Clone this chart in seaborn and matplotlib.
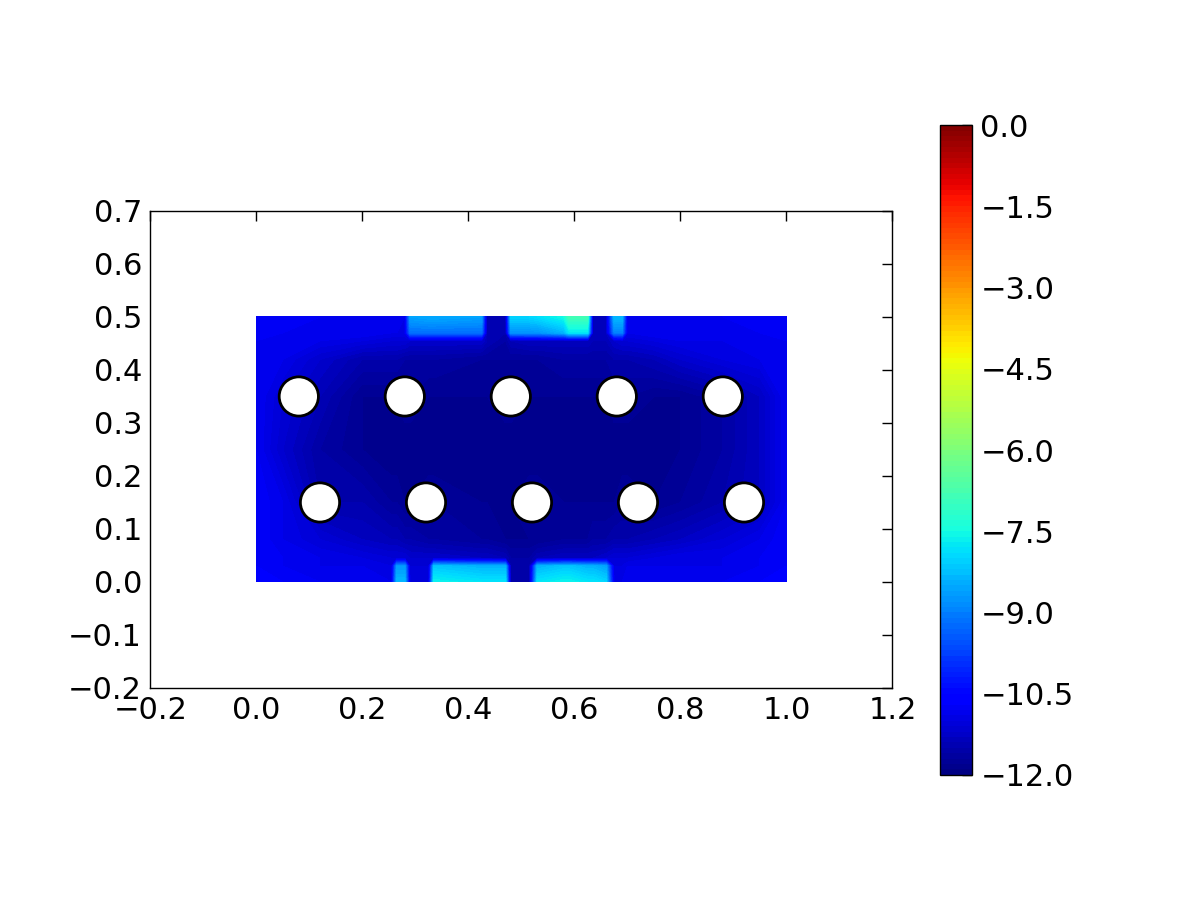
import numpy as np
import matplotlib
matplotlib.use("Agg")
import matplotlib.pyplot as plt
from matplotlib.patches import Circle
import seaborn as sns

# grid nodes of the field
xs = [0.00, 0.05, 0.12, 0.20, 0.255, 0.265, 0.28, 0.29, 0.325, 0.335,
      0.425, 0.435, 0.47, 0.48, 0.515, 0.53, 0.58, 0.59, 0.625, 0.635,
      0.66, 0.675, 0.69, 0.70, 0.75, 0.80, 0.88, 0.95, 1.00]
ys = [0.0, 0.03, 0.045, 0.08, 0.15, 0.25, 0.35, 0.42, 0.455, 0.47, 0.5]

# one row per y value, one entry per x value
row_000 = [-10.6, -10.7, -10.8, -10.8, -10.9, -8.3, -8.3, -11.0, -11.0, -7.6,
           -7.8, -7.8, -7.8, -11.5, -11.5, -7.8, -7.6, -7.6, -7.8, -7.8,
           -8.0, -10.9, -10.9, -10.8, -10.8, -10.8, -10.8, -10.7, -10.6]
row_003 = [-10.7, -10.8, -10.9, -10.9, -11.0, -8.7, -8.7, -11.1, -11.1, -8.2,
           -8.4, -8.4, -8.4, -11.5, -11.5, -8.4, -8.2, -8.2, -8.4, -8.4,
           -8.6, -11.0, -11.0, -10.9, -10.9, -10.9, -10.9, -10.8, -10.7]
row_0045 = [-10.7, -10.8, -10.9, -11.0, -11.1, -11.1, -11.1, -11.2, -11.2, -11.2,
            -11.3, -11.3, -11.4, -11.6, -11.6, -11.4, -11.3, -11.3, -11.3, -11.3,
            -11.2, -11.1, -11.1, -11.1, -11.0, -10.9, -10.9, -10.8, -10.7]
row_008 = [-10.7, -10.9, -11.1, -11.3, -11.4, -11.4, -11.5, -11.5, -11.6, -11.6,
           -11.7, -11.7, -11.8, -11.8, -11.8, -11.8, -11.7, -11.7, -11.7, -11.6,
           -11.6, -11.5, -11.5, -11.5, -11.4, -11.3, -11.1, -10.9, -10.7]
row_015 = [-10.7, -10.9, -11.5, -11.5, -11.7, -11.7, -11.8, -11.8, -11.7, -11.7,
           -11.8, -11.8, -11.8, -11.8, -11.7, -11.7, -11.8, -11.8, -11.8, -11.8,
           -11.8, -11.8, -11.7, -11.7, -11.8, -11.7, -11.5, -11.3, -10.8]
row_025 = [-10.8, -11.2, -11.6, -11.8, -11.9, -11.9, -11.9, -11.9, -11.9, -11.9,
           -11.9, -11.9, -11.9, -11.9, -11.9, -11.9, -11.9, -11.9, -11.9, -11.9,
           -11.9, -11.9, -11.9, -11.9, -11.9, -11.8, -11.6, -11.3, -10.8]
row_035 = [-10.8, -11.1, -11.4, -11.8, -11.8, -11.8, -11.7, -11.7, -11.8, -11.8,
           -11.8, -11.8, -11.7, -11.7, -11.8, -11.8, -11.8, -11.8, -11.8, -11.8,
           -11.8, -11.7, -11.7, -11.7, -11.8, -11.8, -11.6, -11.3, -10.8]
row_042 = [-10.8, -10.9, -11.2, -11.5, -11.5, -11.5, -11.6, -11.6, -11.6, -11.6,
           -11.7, -11.7, -11.7, -11.7, -11.7, -11.7, -11.6, -11.6, -11.6, -11.6,
           -11.6, -11.5, -11.5, -11.5, -11.4, -11.2, -11.0, -10.9, -10.8]
row_0455 = [-10.8, -10.8, -10.9, -11.0, -11.1, -11.1, -11.1, -11.2, -11.2, -11.2,
            -11.2, -11.4, -11.6, -11.4, -11.3, -11.3, -11.3, -11.3, -11.3, -11.4,
            -11.4, -11.2, -11.1, -11.1, -11.0, -10.9, -10.9, -10.8, -10.8]
row_047 = [-10.7, -10.8, -10.8, -10.8, -10.9, -10.9, -10.9, -9.2, -9.2, -9.2,
           -9.2, -11.4, -11.5, -8.8, -8.8, -8.8, -8.4, -7.8, -7.8, -11.3,
           -11.3, -9.0, -9.0, -10.9, -10.8, -10.8, -10.8, -10.8, -10.7]
row_050 = [-10.7, -10.7, -10.8, -10.8, -10.8, -10.8, -10.9, -8.6, -8.5, -8.5,
           -8.6, -11.4, -11.5, -8.0, -8.0, -7.9, -7.5, -6.8, -6.8, -11.3,
           -11.3, -8.3, -8.3, -10.9, -10.8, -10.8, -10.8, -10.7, -10.7]

field = np.array([row_000, row_003, row_0045, row_008, row_015, row_025,
                  row_035, row_042, row_0455, row_047, row_050])

# hole centres
hole_x = [0.08, 0.28, 0.48, 0.68, 0.88, 0.12, 0.32, 0.52, 0.72, 0.92]
hole_y = [0.35, 0.35, 0.35, 0.35, 0.35, 0.15, 0.15, 0.15, 0.15, 0.15]
hole_r = 0.037

cbar_ticks = [-12.0, -10.5, -9.0, -7.5, -6.0, -4.5, -3.0, -1.5, 0.0]

sns.set_theme(style="white")
plt.rcParams["font.family"] = ["DejaVu Sans"]
plt.rcParams["font.size"] = 22
plt.rcParams["text.color"] = "black"
plt.rcParams["xtick.color"] = "black"
plt.rcParams["ytick.color"] = "black"
plt.rcParams["xtick.direction"] = "in"
plt.rcParams["ytick.direction"] = "in"

fig = plt.figure(figsize=(12, 9), dpi=100)
ax = fig.add_axes([0.125, 0.2356, 0.619, 0.53])
cax = fig.add_axes([0.7833, 0.139, 0.0267, 0.722])

X, Y = np.meshgrid(xs, ys)
levels = np.linspace(-12, 0, 121)
cs = ax.contourf(X, Y, field, levels=levels, cmap="jet", vmin=-12, vmax=0)

for cx, cy in zip(hole_x, hole_y):
    ax.add_patch(Circle((cx, cy), hole_r, facecolor="white",
                        edgecolor="black", lw=2, zorder=3))

ax.set_xlim(-0.2, 1.2)
ax.set_ylim(-0.2, 0.7)
ax.set_aspect("equal")
ax.set_xticks(np.arange(-0.2, 1.21, 0.2))
ax.set_yticks(np.arange(-0.2, 0.71, 0.1))
ax.tick_params(axis="both", which="major", labelsize=22, length=7, width=1,
               color="black", labelcolor="black", top=True, right=True, pad=6)
for sp in ax.spines.values():
    sp.set_color("black")
    sp.set_linewidth(1)

cb = fig.colorbar(cs, cax=cax, ticks=cbar_ticks)
cb.ax.tick_params(labelsize=22, direction="in", length=7, width=1,
                  color="black", labelcolor="black", pad=6)
cb.outline.set_edgecolor("black")
cb.outline.set_linewidth(1)

fig.savefig("out.png", dpi=100, facecolor="white")
